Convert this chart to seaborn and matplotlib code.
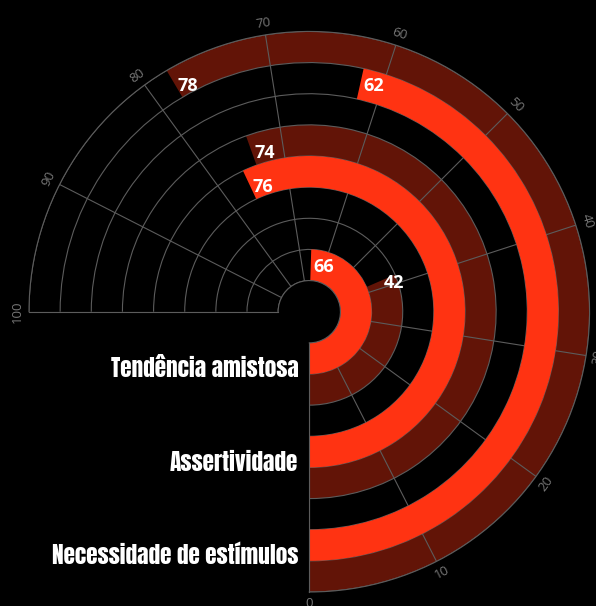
import matplotlib
matplotlib.use("Agg")
import matplotlib.pyplot as plt
import numpy as np
import seaborn as sns

# dados
categorias = ["Tendência amistosa", "Assertividade", "Necessidade de estímulos"]
serie_clara = [66, 76, 62]
serie_escura = [42, 74, 78]
escala = np.arange(0, 101, 10)

cor_clara = "#ff3312"
cor_escura = "#621407"
cor_grade = "#5c5c5c"

sns.set_style("dark", {"axes.facecolor": "black", "figure.facecolor": "black"})
plt.rcParams["font.family"] = ["Open Sans", "DejaVu Sans"]


def ang(v):
    # 0..100 ocupa 270 graus
    return np.radians(np.asarray(v) * 2.7)


fig = plt.figure(figsize=(5.96, 6.06), dpi=100)
fig.patch.set_facecolor("black")
ax = fig.add_axes([29 / 596, 14 / 606, 566 / 596, 566 / 606], projection="polar")
ax.set_facecolor("black")
ax.set_theta_zero_location("S")
ax.set_theta_direction(1)
ax.set_thetamin(0)
ax.set_thetamax(270)
ax.set_rorigin(0)
ax.set_ylim(1, 9)

pos = np.arange(len(categorias)) * 3 + 2

ax.bar(np.zeros(3), np.ones(3), width=ang(serie_clara), bottom=pos - 1,
       align="edge", color=cor_clara, linewidth=0, zorder=2)
ax.bar(np.zeros(3), np.ones(3), width=ang(serie_escura), bottom=pos,
       align="edge", color=cor_escura, linewidth=0, zorder=1)

ax.set_axisbelow("line")
ax.set_xticks(ang(escala))
ax.set_xticklabels([])
ax.set_yticks(np.arange(1, 10))
ax.set_yticklabels([])
ax.tick_params(length=0)
ax.grid(True, color=cor_grade, linewidth=0.8)
for s in ax.spines.values():
    s.set_color(cor_grade)
    s.set_linewidth(0.8)

# rótulos da escala angular
for v in escala:
    rot = v * 2.7 - 180
    rot = (rot + 90) % 180 - 90
    if rot == -90:
        rot = 90
    ax.text(ang(v), 9.38, str(v), rotation=rot, rotation_mode="anchor",
            ha="center", va="center", color="#777777", fontsize=9.5, clip_on=False)

# valores nas pontas das barras
for p, a, b in zip(pos, serie_clara, serie_escura):
    ax.annotate(str(a), xy=(ang(a), p - 0.5), xytext=(3, -2), textcoords="offset pixels",
                ha="left", va="center", color="white", fontsize=13, fontweight="bold",
                zorder=5)
    ax.annotate(str(b), xy=(ang(b), p + 0.5), xytext=(3, -2), textcoords="offset pixels",
                ha="left", va="center", color="white", fontsize=13, fontweight="bold",
                zorder=5)

# nomes das categorias
for p, c in zip(pos, categorias):
    ax.annotate(c, xy=(0, p), xytext=(-11, 5), textcoords="offset pixels",
                ha="right", va="center", color="white", fontsize=16.8,
                family=["Anton", "DejaVu Sans"], annotation_clip=False)

fig.savefig("out.png", dpi=100, facecolor="black")
